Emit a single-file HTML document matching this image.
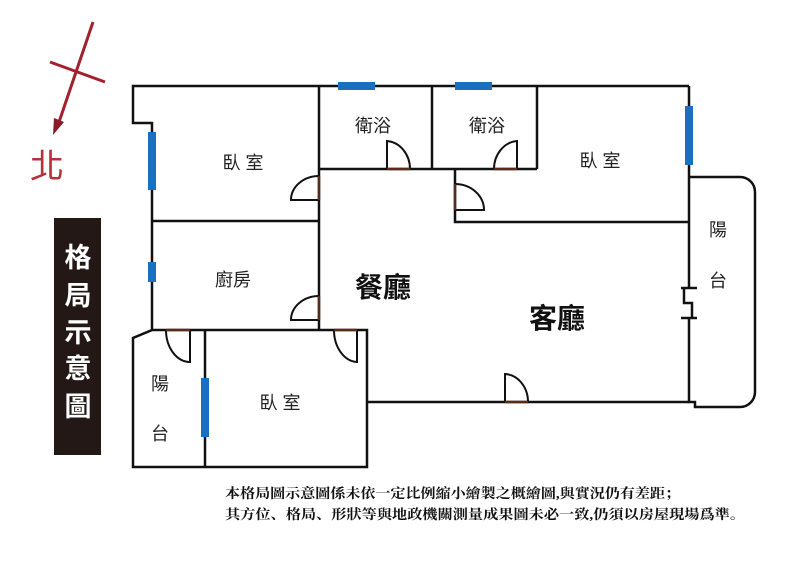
<!DOCTYPE html>
<html><head><meta charset="utf-8"><style>html,body{margin:0;padding:0;background:#fff;}svg{display:block}</style></head>
<body>
<svg width="800" height="561" viewBox="0 0 800 561" xmlns="http://www.w3.org/2000/svg" font-family="Liberation Sans, Noto Sans CJK TC, sans-serif">
<rect width="800" height="561" fill="#fff"/>
<!-- compass -->
<g stroke="#a3212f" stroke-width="3" fill="none">
<line x1="93" y1="22" x2="58" y2="125"/>
<line x1="50" y1="62" x2="105" y2="82"/>
</g>
<polygon points="53,135 54,118 64,122" fill="#8a1a28"/>
<text x="47" y="178" font-size="34" fill="#b5323d" text-anchor="middle">北</text>
<!-- title box -->
<rect x="54" y="218" width="47" height="237" fill="#231816"/>
<g fill="#fff" font-size="27" font-weight="bold" text-anchor="middle">
<text x="78" y="267">格</text><text x="78" y="305">局</text><text x="78" y="342">示</text><text x="78" y="378">意</text><text x="78" y="416">圖</text>
</g>
<!-- walls -->
<g stroke="#111" stroke-width="2.5" fill="none" stroke-linejoin="miter">
<polyline points="689,86 133,86 133,123 152,123 152,330 133,338 133,467 367,467 367,330 152,330"/>
<line x1="367" y1="402" x2="689" y2="402"/>
<polyline points="689,86 689,288"/>
<path d="M689,318 L689,402 L695,402 L695,407 L740,407 A15,15 0 0 0 755,392 L755,192 A15,15 0 0 0 740,177 L689,177"/>
<line x1="319" y1="86" x2="319" y2="330"/>
<line x1="319" y1="169" x2="537" y2="169"/>
<line x1="432" y1="86" x2="432" y2="169"/>
<line x1="537" y1="86" x2="537" y2="169"/>
<polyline points="455,169 455,222 689,222"/>
<line x1="152" y1="221" x2="319" y2="221"/>
<line x1="205" y1="330" x2="205" y2="467"/>
<!-- sliding door -->
<line x1="681" y1="288" x2="697" y2="288"/>
<polyline points="684,288 684,303 692,303 692,318"/>
<line x1="681" y1="318" x2="697" y2="318"/>
</g>
<!-- windows -->
<g fill="#1a6fbf">
<rect x="338" y="82" width="37" height="8"/>
<rect x="455" y="82" width="37" height="8"/>
<rect x="148" y="132" width="8" height="58"/>
<rect x="148" y="262" width="8" height="20"/>
<rect x="685" y="106" width="8" height="59"/>
<rect x="201" y="378" width="8" height="59"/>
</g>
<!-- doors -->
<g stroke="#111" stroke-width="2" fill="none">
<path d="M387,169 L387,141 A25,28 0 0 1 410,169"/>
<path d="M517,169 L517,141 A25,28 0 0 0 494,169"/>
<path d="M319,200 L291,200 A28,24 0 0 1 319,176"/>
<path d="M319,320 L291,320 A28,24 0 0 1 319,296"/>
<path d="M455,210 L484,210 A29,26 0 0 0 455,184"/>
<path d="M190,330 L190,362 A24,32 0 0 1 166,330"/>
<path d="M357,330 L357,362 A24,32 0 0 1 334,330"/>
<path d="M505,402 L505,374 A24,28 0 0 1 528,402"/>
</g>
<g stroke="#5a2a1a" stroke-width="2.5">
<line x1="387" y1="169" x2="410" y2="169"/>
<line x1="494" y1="169" x2="517" y2="169"/>
<line x1="319" y1="176" x2="319" y2="200"/>
<line x1="319" y1="296" x2="319" y2="320"/>
<line x1="455" y1="184" x2="455" y2="210"/>
<line x1="166" y1="330" x2="190" y2="330"/>
<line x1="334" y1="330" x2="357" y2="330"/>
<line x1="505" y1="402" x2="528" y2="402"/>
</g>
<!-- labels -->
<g fill="#222" font-size="18" text-anchor="middle">
<text x="243" y="169">臥 室</text>
<text x="373" y="132">衛浴</text>
<text x="487" y="132">衛浴</text>
<text x="600" y="167">臥 室</text>
<text x="233" y="286">廚房</text>
<text x="280" y="409">臥 室</text>
<text x="718" y="236">陽</text>
<text x="718" y="287">台</text>
<text x="160" y="390">陽</text>
<text x="160" y="440">台</text>
</g>
<text x="383" y="297" font-size="28" font-weight="bold" fill="#111" text-anchor="middle">餐廳</text>
<text x="557" y="328" font-size="28" font-weight="bold" fill="#111" text-anchor="middle">客廳</text>
<!-- footnote -->
<g fill="#111" font-size="13.5" font-weight="bold" font-family="Liberation Serif, Noto Serif CJK SC, serif">
<text x="225" y="498" textLength="455" lengthAdjust="spacingAndGlyphs">本格局圖示意圖係未依一定比例縮小繪製之概繪圖,與實況仍有差距；</text>
<text x="225" y="519" textLength="520" lengthAdjust="spacingAndGlyphs">其方位、格局、形狀等與地政機關測量成果圖未必一致,仍須以房屋現場爲準。</text>
</g>
</svg>
</body></html>
